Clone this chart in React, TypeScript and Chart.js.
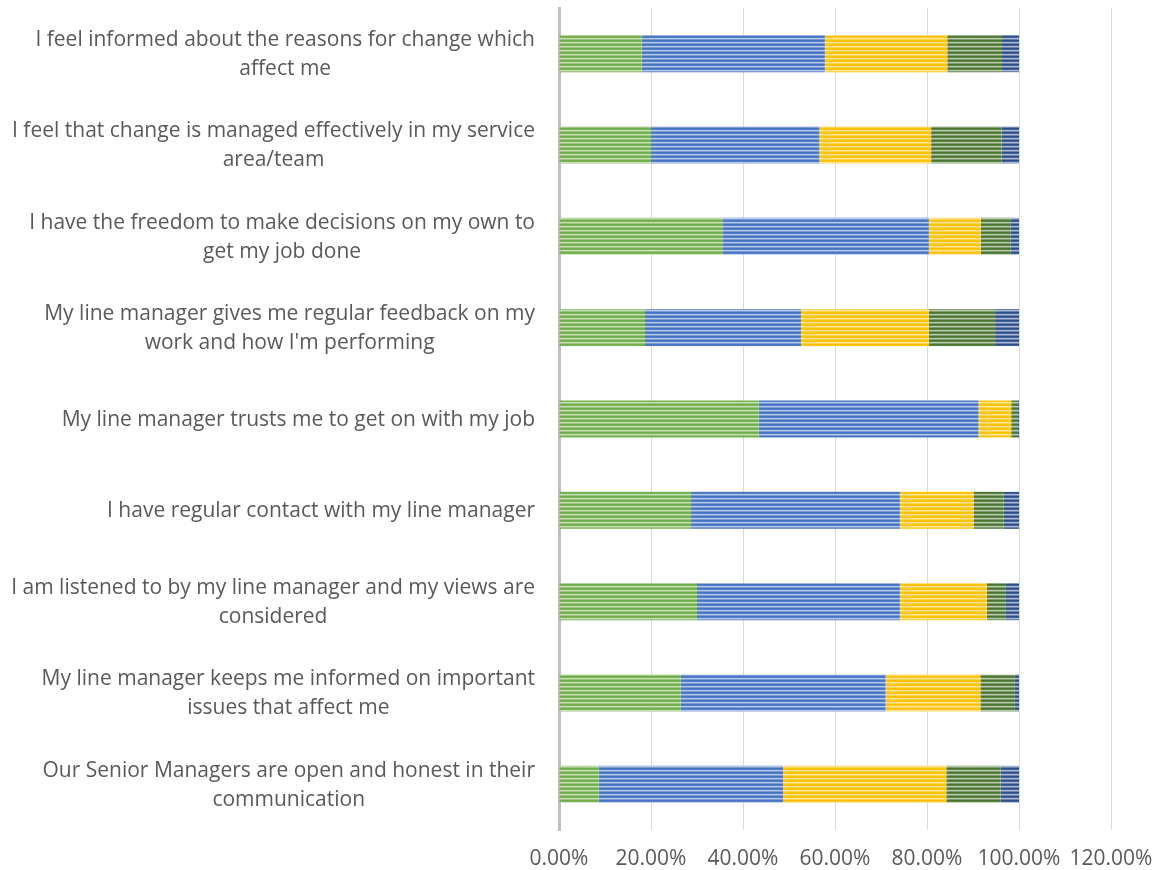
import React, { useEffect, useRef } from "react";
import { Chart, registerables } from "chart.js";

Chart.register(...registerables);

const categories: string[][] = [
  ["I feel informed about the reasons for change which", "affect me"],
  ["I feel that change is managed effectively in my service", "area/team"],
  ["I have the freedom to make decisions on my own to", "get my job done"],
  ["My line manager gives me regular feedback on my", "work and how I'm performing"],
  ["My line manager trusts me to get on with my job"],
  ["I have regular contact with my line manager"],
  ["I am listened to by my line manager and my views are", "considered"],
  ["My line manager keeps me informed on important", "issues that affect me"],
  ["Our Senior Managers are open and honest in their", "communication"],
];

const series1 = [18.0, 20.0, 35.5, 18.7, 43.4, 28.7, 30.0, 26.4, 8.6];
const series2 = [39.8, 36.6, 44.9, 33.9, 47.8, 45.4, 44.1, 44.6, 40.1];
const series3 = [26.6, 24.3, 11.3, 27.8, 7.1, 16.0, 18.9, 20.6, 35.5];
const series4 = [11.9, 15.3, 6.4, 14.4, 1.3, 6.6, 4.0, 7.5, 11.8];
const series5 = [3.7, 3.8, 1.9, 5.2, 0.4, 3.3, 3.0, 0.9, 4.0];

const seriesColors = ["#70AD47", "#4472C4", "#FFC000", "#4A7530", "#2C4F8C"];

const TEXT_COLOR = "#595959";
const FONT_FAMILY = "'Open Sans', sans-serif";

function mix(hex: string, t: number): string {
  const r = parseInt(hex.slice(1, 3), 16);
  const g = parseInt(hex.slice(3, 5), 16);
  const b = parseInt(hex.slice(5, 7), 16);
  const f = (c: number) => Math.round(c + (255 - c) * t);
  return `rgb(${f(r)},${f(g)},${f(b)})`;
}

function stripe(hex: string): CanvasPattern | string {
  const c = document.createElement("canvas");
  c.width = 8;
  c.height = 4;
  const ctx = c.getContext("2d");
  if (!ctx) return hex;
  const rows = [0, 0.1, 0.6, 0.3];
  rows.forEach((t, i) => {
    ctx.fillStyle = mix(hex, t);
    ctx.fillRect(0, i, 8, 1);
  });
  return ctx.createPattern(c, "repeat") || hex;
}

const labelPlugin = {
  id: "blockLabels",
  afterDraw(chart: any) {
    const ctx = chart.ctx;
    const y = chart.scales.y;
    const rightX = 535;
    const lh = 29;
    ctx.save();
    ctx.font = `21px ${FONT_FAMILY}`;
    ctx.fillStyle = TEXT_COLOR;
    ctx.textAlign = "center";
    ctx.textBaseline = "middle";
    categories.forEach((lines, i) => {
      const cy = y.getPixelForTick(i) + 1;
      const w = Math.max(...lines.map((l) => ctx.measureText(l).width));
      const cx = rightX - w / 2;
      const start = cy - ((lines.length - 1) * lh) / 2;
      lines.forEach((l, j) => ctx.fillText(l, cx, start + j * lh));
    });
    ctx.restore();
  },
};

export default function App() {
  const ref = useRef<HTMLCanvasElement | null>(null);

  useEffect(() => {
    if (!ref.current) return;
    const all = [series1, series2, series3, series4, series5];
    const chart = new Chart(ref.current, {
      type: "bar",
      data: {
        labels: categories.map((c) => c.join(" ")),
        datasets: all.map((d, i) => ({
          label: `Series ${i + 1}`,
          data: d,
          backgroundColor: stripe(seriesColors[i]) as any,
          borderWidth: 0,
          barPercentage: 0.405,
          categoryPercentage: 1,
        })),
      },
      options: {
        indexAxis: "y",
        responsive: false,
        animation: false,
        layout: { padding: { top: 8, right: 47, left: 0, bottom: 0 } },
        plugins: {
          legend: { display: false },
          tooltip: { enabled: false },
        },
        scales: {
          x: {
            stacked: true,
            min: 0,
            max: 120,
            ticks: {
              stepSize: 20,
              color: TEXT_COLOR,
              font: { family: FONT_FAMILY, size: 21 },
              padding: 16,
              callback: (v: any) => `${Number(v).toFixed(2)}%`,
            },
            grid: { color: "#D9D9D9", lineWidth: 1, drawTicks: false },
            border: { display: false },
            afterFit: (s: any) => {
              s.height = 40;
              s.paddingLeft = 0;
              s.paddingRight = 0;
            },
          },
          y: {
            stacked: true,
            ticks: { display: false },
            grid: { display: false, drawTicks: false },
            border: { display: true, color: "#BFBFBF", width: 3 },
            afterFit: (s: any) => {
              s.width = 559;
              s.paddingTop = 0;
              s.paddingBottom = 0;
            },
          },
        },
      },
      plugins: [labelPlugin],
    });
    return () => chart.destroy();
  }, []);

  return (
    <div style={{ position: "fixed", left: 0, top: 0, width: 1158, height: 870, background: "#fff" }}>
      <canvas ref={ref} width={1158} height={870} />
    </div>
  );
}
